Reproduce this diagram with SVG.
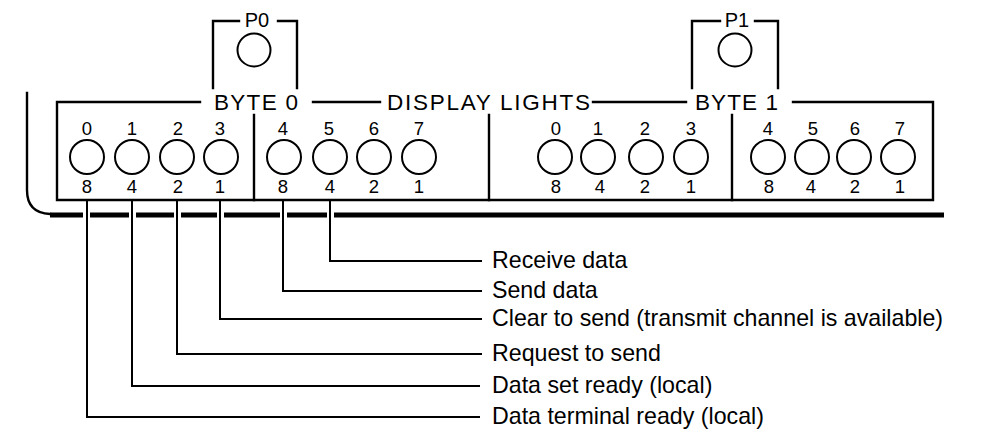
<svg xmlns="http://www.w3.org/2000/svg" width="987" height="431" viewBox="0 0 987 431">
<style>
.ln{fill:none;stroke:#000;stroke-width:2.4;stroke-linecap:square}
.lamp{fill:#fff;stroke:#000;stroke-width:2}
.hd{font-family:"Liberation Sans",Arial,sans-serif;font-size:22.5px;fill:#000}
.pl{font-family:"Liberation Sans",Arial,sans-serif;font-size:20px;fill:#000;text-anchor:middle}
.dg{font-family:"Liberation Sans",Arial,sans-serif;font-size:18.5px;fill:#000;text-anchor:middle}
.lb{font-family:"Liberation Sans",Arial,sans-serif;font-size:23.2px;fill:#000}
.thick{fill:none;stroke:#000;stroke-width:5}
.cn{fill:none;stroke:#000;stroke-width:2}
</style>
<rect width="987" height="431" fill="#fff"/>
<g id="panel">
  <path class="ln" d="M27 93 V190 Q27 213 50 214"/>
  <path class="thick" d="M50 215 H83 M90 215 H129 M136 215 H174 M181 215 H217 M224 215 H280 M287 215 H327 M334 215 H944"/>
  <path class="ln" d="M200 102 H57 V200 H933 V102 H793 M313 102 H380 M593 102 H686"/>
  <path class="ln" d="M254 115 V200 M489 115 V200 M732 115 V200"/>
  <text class="hd" x="214" y="110" textLength="84" lengthAdjust="spacing">BYTE 0</text>
  <text class="hd" x="387" y="110" textLength="203" lengthAdjust="spacing">DISPLAY LIGHTS</text>
  <text class="hd" x="695" y="110" textLength="83" lengthAdjust="spacing">BYTE 1</text>
</g>
<g id="p0">
  <path class="ln" d="M213 88 V21 H239 M278 21 H297 V88"/>
  <text class="pl" x="257" y="27">P0</text>
  <circle class="lamp" cx="254" cy="50" r="16.5"/>
</g>
<g id="p1">
  <path class="ln" d="M692 88 V21 H720 M755 21 H778 V88"/>
  <text class="pl" x="737" y="27">P1</text>
  <circle class="lamp" cx="735" cy="50" r="16.5"/>
</g>
<g id="byte0">
  <circle class="lamp" cx="87" cy="157" r="17"/>
  <circle class="lamp" cx="132" cy="157" r="17"/>
  <circle class="lamp" cx="177" cy="157" r="17"/>
  <circle class="lamp" cx="221" cy="157" r="17"/>
  <circle class="lamp" cx="284" cy="157" r="17"/>
  <circle class="lamp" cx="330" cy="157" r="17"/>
  <circle class="lamp" cx="374" cy="157" r="17"/>
  <circle class="lamp" cx="419" cy="157" r="17"/>
  <text class="dg" x="87" y="135">0</text><text class="dg" x="132" y="135">1</text><text class="dg" x="178" y="135">2</text><text class="dg" x="220" y="135">3</text>
  <text class="dg" x="283" y="135">4</text><text class="dg" x="329" y="135">5</text><text class="dg" x="374" y="135">6</text><text class="dg" x="419" y="135">7</text>
  <text class="dg" x="87" y="193">8</text><text class="dg" x="132" y="193">4</text><text class="dg" x="178" y="193">2</text><text class="dg" x="220" y="193">1</text>
  <text class="dg" x="283" y="193">8</text><text class="dg" x="330" y="193">4</text><text class="dg" x="374" y="193">2</text><text class="dg" x="419" y="193">1</text>
</g>
<g id="byte1">
  <circle class="lamp" cx="555" cy="157" r="17"/>
  <circle class="lamp" cx="598" cy="157" r="17"/>
  <circle class="lamp" cx="646" cy="157" r="17"/>
  <circle class="lamp" cx="691" cy="157" r="17"/>
  <circle class="lamp" cx="768" cy="157" r="17"/>
  <circle class="lamp" cx="812" cy="157" r="17"/>
  <circle class="lamp" cx="854" cy="157" r="17"/>
  <circle class="lamp" cx="898" cy="157" r="17"/>
  <text class="dg" x="556" y="135">0</text><text class="dg" x="598" y="135">1</text><text class="dg" x="645" y="135">2</text><text class="dg" x="691" y="135">3</text>
  <text class="dg" x="768" y="135">4</text><text class="dg" x="813" y="135">5</text><text class="dg" x="855" y="135">6</text><text class="dg" x="900" y="135">7</text>
  <text class="dg" x="556" y="193">8</text><text class="dg" x="600" y="193">4</text><text class="dg" x="645" y="193">2</text><text class="dg" x="691" y="193">1</text>
  <text class="dg" x="769" y="193">8</text><text class="dg" x="811" y="193">4</text><text class="dg" x="855" y="193">2</text><text class="dg" x="900" y="193">1</text>
</g>
<g id="connectors">
  <path class="cn" d="M330 199 V261 H482"/>
  <path class="cn" d="M283 199 V291 H482"/>
  <path class="cn" d="M220 199 V319 H482"/>
  <path class="cn" d="M177 199 V354 H482"/>
  <path class="cn" d="M132 199 V386 H480"/>
  <path class="cn" d="M87 199 V417 H480"/>
</g>
<g id="labels">
  <text class="lb" x="492" y="268">Receive data</text>
  <text class="lb" x="492" y="298">Send data</text>
  <text class="lb" x="492" y="326">Clear to send (transmit channel is available)</text>
  <text class="lb" x="492" y="361">Request to send</text>
  <text class="lb" x="492" y="393">Data set ready (local)</text>
  <text class="lb" x="492" y="424">Data terminal ready (local)</text>
</g>
</svg>
